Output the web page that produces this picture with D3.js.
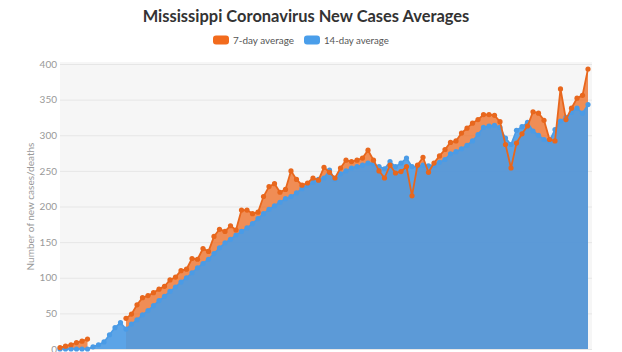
<!DOCTYPE html>
<html><head><meta charset="utf-8">
<script src="https://cdn.jsdelivr.net/npm/d3@7"></script>
<style>body{margin:0;background:#fff}</style>
</head><body><svg id="c" width="622" height="352"></svg>
<script>
const seriesNames = ["7-day average", "14-day average"];
const sevenDay = [2,4,6,9,11,14,null,null,null,null,null,null,
  43,49,62,72,75,79,84,88,97,101,110,112,127,126,141,137,158,168,165,173,167,195,195,190,192,
  214,228,232,220,224,250,238,230,233,240,237,255,248,240,254,265,263,265,268,279,265,250,240,
  258,247,249,256,215,258,269,248,261,271,280,290,292,303,310,317,322,329,329,328,319,287,254,
  289,302,313,333,331,321,294,292,365,322,338,352,356,393];
const fourteenDay = [0,0,0,0,0,0,3,6,10,20,30,37,
  28,35,41,48,54,61,68,74,81,87,94,100,107,114,120,126,134,142,149,154,160,165,170,176,183,
  190,196,201,206,211,214,219,225,230,234,238,240,251,238,246,250,254,256,258,261,260,256,253,
  263,256,261,268,256,255,258,257,258,262,266,274,277,281,286,292,301,311,313,314,311,296,287,
  307,312,318,306,300,294,292,308,320,325,332,338,331,343];
const yTicks = [0,50,100,150,200,250,300,350,400];
const titleText = "Mississippi Coronavirus New Cases Averages";
const yTitle = "Number of new cases/deaths";

const svg = d3.select("#c");
const pLeft = 60, pRight = 588, pTop = 64, pBottom = 349, bgRight = 592, bgTop = 62;
const x = d3.scaleLinear().domain([0, sevenDay.length - 1]).range([pLeft, pRight]);
const y = d3.scaleLinear().domain([0, 400]).range([pBottom, pTop]);

function fit(sel, target) {
  const w = sel.node().getComputedTextLength();
  const fs = parseFloat(sel.attr("font-size"));
  sel.attr("font-size", (fs * target / w).toFixed(2));
}

// plot background
svg.append("rect").attr("x", pLeft).attr("y", bgTop).attr("width", bgRight - pLeft).attr("height", pBottom - bgTop)
  .attr("fill", "#f6f6f6");

// grid + y axis
const ya = svg.append("g").attr("transform", `translate(${pLeft},0)`)
  .call(d3.axisLeft(y).tickValues(yTicks).tickSize(-(bgRight - pLeft)).tickPadding(3).tickFormat(d3.format("d")));
ya.select(".domain").remove();
ya.selectAll(".tick line").attr("stroke", "#e6e6e6");
ya.selectAll(".tick text").attr("fill", "#999").attr("font-size", 10).attr("font-family", "Lato, 'Open Sans', sans-serif");

// areas
const area7 = d3.area().defined(d => d != null).x((d, i) => x(i)).y0(y(0)).y1(d => y(d));
const area14 = d3.area().x((d, i) => x(i)).y0(y(0)).y1(d => y(d));
svg.append("path").datum(sevenDay).attr("d", area7).attr("fill", "#ee6a1f").attr("fill-opacity", 0.75);
svg.append("path").datum(fourteenDay).attr("d", area14).attr("fill", "#4b9be5").attr("fill-opacity", 0.9);

// lines
const line7 = d3.line().defined(d => d != null).x((d, i) => x(i)).y(d => y(d));
const line14 = d3.line().x((d, i) => x(i)).y(d => y(d));
svg.append("path").datum(fourteenDay).attr("d", line14).attr("fill", "none").attr("stroke", "#4a9be6").attr("stroke-width", 1.6);
svg.append("g").selectAll("circle").data(fourteenDay).join("circle")
  .attr("cx", (d, i) => x(i)).attr("cy", d => y(d)).attr("r", 2.6).attr("fill", "#4a9be6");
svg.append("path").datum(sevenDay).attr("d", line7).attr("fill", "none").attr("stroke", "#e8671d").attr("stroke-width", 1.8);
svg.append("g").selectAll("circle").data(sevenDay.map((v, i) => [v, i]).filter(p => p[0] != null)).join("circle")
  .attr("cx", p => x(p[1])).attr("cy", p => y(p[0])).attr("r", 2.6).attr("fill", "#e8671d");

// title
const t = svg.append("text").attr("x", 306).attr("y", 21.5).attr("text-anchor", "middle")
  .attr("font-family", "Lato, 'Open Sans', sans-serif").attr("font-weight", 700).attr("font-size", 18)
  .attr("fill", "#333").text(titleText);
fit(t, 327);

// legend
const legColors = ["#f26b1d", "#4a9eea"];
const legX = [213, 304];
const legW = [61, 65];
seriesNames.forEach((name, k) => {
  svg.append("rect").attr("x", legX[k]).attr("y", 35.5).attr("width", 16).attr("height", 9).attr("rx", 3)
    .attr("fill", legColors[k]);
  const lt = svg.append("text").attr("x", legX[k] + 20).attr("y", 44)
    .attr("font-family", "Lato, 'Open Sans', sans-serif").attr("font-size", 11).attr("fill", "#555").text(name);
  fit(lt, legW[k]);
});

// y axis title
const yt = svg.append("text").attr("transform", `translate(34,${(pTop + pBottom) / 2}) rotate(-90)`)
  .attr("text-anchor", "middle").attr("font-family", "Lato, 'Open Sans', sans-serif").attr("font-size", 10)
  .attr("fill", "#999").text(yTitle);
fit(yt, 128);
</script></body></html>
